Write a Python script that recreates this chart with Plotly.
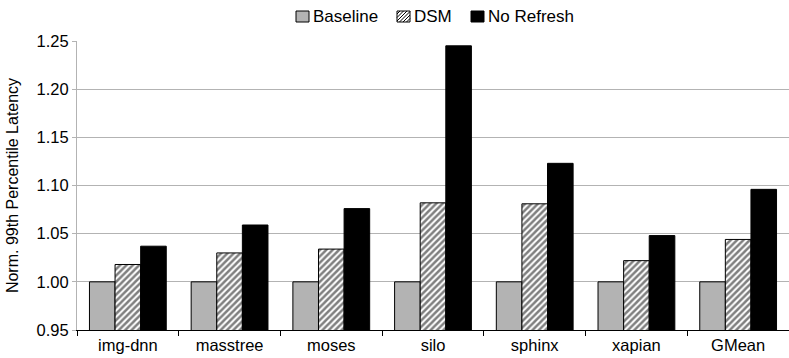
import plotly.graph_objects as go

# Benchmarks and normalized 99th-percentile latency per configuration
categories = ["img-dnn", "masstree", "moses", "silo", "sphinx", "xapian", "GMean"]
baseline = [1.000, 1.000, 1.000, 1.000, 1.000, 1.000, 1.000]
dsm = [1.018, 1.030, 1.034, 1.082, 1.081, 1.022, 1.044]
no_refresh = [1.037, 1.059, 1.076, 1.245, 1.123, 1.048, 1.096]
y_ticks = [0.95, 1.00, 1.05, 1.10, 1.15, 1.20, 1.25]
series_names = ["Baseline", "DSM", "No Refresh"]

FONT = "Liberation Sans, Arial, sans-serif"
W, H = 789, 358
M_L, M_R, M_T, M_B = 77, 0, 41, 28
outline = dict(color="#000000", width=1)
hatch = dict(shape="/", fgcolor="#000000", bgcolor="#ffffff",
             size=4.5, solidity=0.55, fillmode="overlay")

fig = go.Figure()
fig.add_trace(go.Bar(name=series_names[0], x=categories, y=baseline,
                     marker=dict(color="#b3b3b3", line=outline)))
fig.add_trace(go.Bar(name=series_names[1], x=categories, y=dsm,
                     marker=dict(color="#ffffff", line=outline, pattern=hatch)))
fig.add_trace(go.Bar(name=series_names[2], x=categories, y=no_refresh,
                     marker=dict(color="#000000", line=outline)))


# Pixel -> paper helpers for the hand-drawn legend above the plot
def px_x(px):
    return (px - M_L) / (W - M_L - M_R)


def px_y(py):
    return (H - M_B - py) / (H - M_T - M_B)


shapes = []
annotations = []
legend_boxes = [(296, "#b3b3b3", False), (397, "#ffffff", True), (471, "#000000", False)]
box_w, box_top, box_bot = 13, 11, 22
for (bx, fill, hatched), name in zip(legend_boxes, series_names):
    shapes.append(dict(type="rect", xref="paper", yref="paper",
                       x0=px_x(bx), x1=px_x(bx + box_w),
                       y0=px_y(box_bot), y1=px_y(box_top),
                       fillcolor=fill, line=dict(color="#000000", width=1)))
    if hatched:
        h = box_bot - box_top
        c = -h + 3
        while c < box_w:
            u0, v0 = (c, 0) if c >= 0 else (0, -c)
            u1, v1 = (c + h, h) if c + h <= box_w else (box_w, box_w - c)
            shapes.append(dict(type="line", xref="paper", yref="paper",
                               x0=px_x(bx + u0), y0=px_y(box_bot - v0),
                               x1=px_x(bx + u1), y1=px_y(box_bot - v1),
                               line=dict(color="#000000", width=1)))
            c += 3.5
    annotations.append(dict(text=name, xref="paper", yref="paper",
                            x=px_x(bx + box_w + 2), y=px_y((box_top + box_bot) / 2),
                            xanchor="left", yanchor="middle", showarrow=False,
                            font=dict(family=FONT, size=17, color="#000000")))

fig.update_layout(
    width=W, height=H,
    margin=dict(l=M_L, r=M_R, t=M_T, b=M_B),
    paper_bgcolor="#ffffff", plot_bgcolor="#ffffff",
    barmode="group", bargap=0.245, bargroupgap=0,
    font=dict(family=FONT, size=16, color="#000000"),
    showlegend=False,
    shapes=shapes, annotations=annotations,
)
fig.update_xaxes(
    showline=True, linecolor="#000000", linewidth=1,
    ticks="outside", tickson="boundaries", ticklen=5, tickcolor="#000000",
    showgrid=False, tickfont=dict(family=FONT, size=16.5, color="#000000"),
)
fig.update_yaxes(
    range=[0.95, 1.25], tickvals=y_ticks,
    ticktext=[f"{v:.2f}" for v in y_ticks],
    showline=True, linecolor="#b3b3b3", linewidth=1,
    ticks="outside", ticklen=4, tickcolor="#b3b3b3",
    showgrid=True, gridcolor="#b3b3b3", gridwidth=1,
    zeroline=False,
    tickfont=dict(family=FONT, size=16.5, color="#000000"),
    title=dict(text="Norm. 99th Percentile Latency",
               font=dict(family=FONT, size=16, color="#000000"), standoff=13),
)

fig.write_html("out.html")
